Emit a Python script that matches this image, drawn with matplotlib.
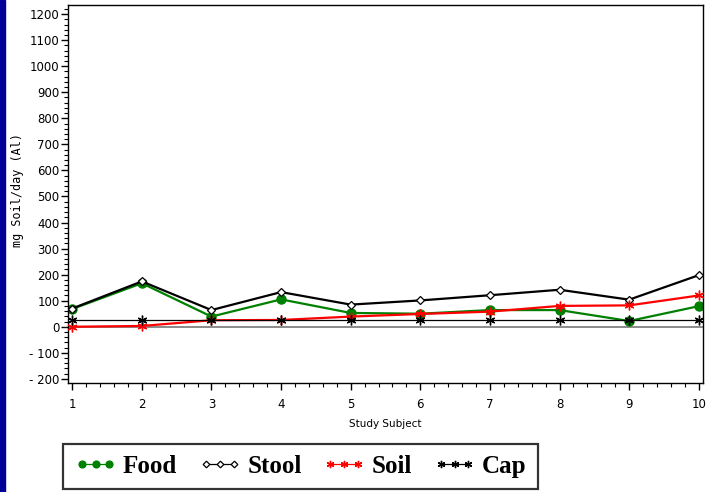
import matplotlib.pyplot as plt
from matplotlib.ticker import MultipleLocator

# data
subjects = [1, 2, 3, 4, 5, 6, 7, 8, 9, 10]
food = [68, 167, 39, 105, 53, 50, 64, 64, 22, 79]
stool = [70, 174, 64, 133, 85, 101, 121, 142, 104, 198]
soil = [0, 3, 25, 26, 39, 49, 58, 80, 82, 120]
cap = [27, 27, 27, 27, 27, 27, 27, 27, 27, 27]

y_ticks = list(range(-200, 1201, 100))
y_tick_labels = [("- %d" % -v) if v < 0 else str(v) for v in y_ticks]

fig = plt.figure(figsize=(7.08, 4.92), dpi=100)
# dark blue strip on the left edge
fig.patches.append(plt.Rectangle((0, 0), 5 / 708, 1, transform=fig.transFigure,
                                 color="#000099", zorder=0))

ax = fig.add_axes([68 / 708, 1 - 382.5 / 492, (703 - 68) / 708, (382.5 - 5) / 492])

ax.axhline(0, color="#777777", lw=1.2, zorder=1)

ax.plot(subjects, food, color="#008000", lw=1.6, marker="o", ms=6.5,
        mfc="#008000", mec="#008000", label="Food", zorder=2)
ax.plot(subjects, stool, color="black", lw=1.6, marker="D", ms=4.5,
        mfc="white", mec="black", mew=0.9, label="Stool", zorder=3)
ax.plot(subjects, soil, color="red", lw=1.6, marker=(6, 2, 0), ms=7,
        mec="red", mew=1.0, label="Soil", zorder=4)
ax.plot(subjects, cap, color="black", lw=0.9, marker=(6, 2, 0), ms=7,
        mec="black", mew=1.0, label="Cap", zorder=5)

ax.set_xlim(0.94, 10.06)
ax.set_ylim(-214, 1235)

ax.set_xticks(subjects)
ax.xaxis.set_minor_locator(MultipleLocator(0.2))
ax.set_yticks(y_ticks)
ax.set_yticklabels(y_tick_labels)
ax.yaxis.set_minor_locator(MultipleLocator(20))

ax.tick_params(axis="both", which="major", direction="out", length=5, width=1,
               labelsize=8.5)
ax.tick_params(axis="y", which="major", pad=1)
ax.tick_params(axis="x", which="major", pad=6)
ax.tick_params(axis="both", which="minor", direction="out", length=3, width=0.8)
for s in ax.spines.values():
    s.set_linewidth(1.0)

ax.set_xlabel("Study Subject", fontsize=7.5, labelpad=6)
fig.text(18 / 708, 1 - 190 / 492, "mg Soil/day (Al)",
         family="DejaVu Sans Mono", fontsize=8.5, rotation=90,
         ha="center", va="center")

leg = fig.legend(loc="center left", bbox_to_anchor=(63 / 708, 1 - 466.5 / 492),
                 ncol=4, frameon=True, fancybox=False,
                 prop={"family": "Liberation Serif", "size": 18, "weight": "bold"},
                 handlelength=1.7, handletextpad=0.25, columnspacing=0.85,
                 borderpad=0.45, borderaxespad=0, markerscale=0.75, numpoints=3)
leg.get_frame().set_edgecolor("black")
leg.get_frame().set_linewidth(1.6)
for h in leg.get_lines():
    h.set_linewidth(0.9)

fig.savefig("out.png", dpi=100)
